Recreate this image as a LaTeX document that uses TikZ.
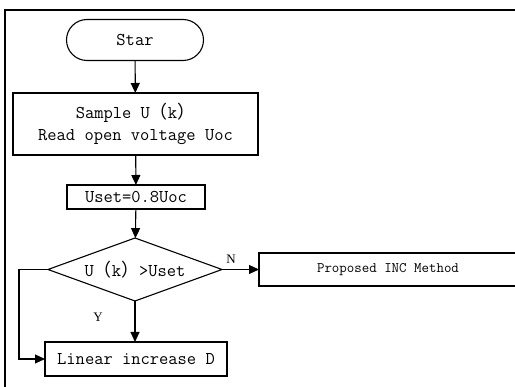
\documentclass[tikz,border=0pt]{standalone}
\usepackage{fontspec}
\setmainfont{Liberation Serif}
\newfontfamily\cjk{Noto Sans CJK SC}
\usetikzlibrary{shapes.geometric,arrows.meta}
\newcommand{\lp}{{\cjk （}}
\newcommand{\rp}{{\cjk ）}}
\begin{document}
\begin{tikzpicture}[x=1pt,y=-1pt,
  every node/.style={inner sep=0pt, outer sep=0pt},
  base/.style={draw=black, line width=1.1pt, font=\ttfamily\fontsize{18}{22}\selectfont, align=center},
  procbox/.style={base, rectangle},
  termbox/.style={base, rectangle, rounded corners=20.5pt},
  decbox/.style={base, diamond, aspect=2.7},
  smallbox/.style={procbox, font=\ttfamily\fontsize{14.5}{16}\selectfont},
  lbl/.style={font=\fontsize{13}{15}\selectfont},
  flow/.style={line width=1.1pt, -{Triangle[length=10pt,width=9pt]}},
  frame/.style={line width=2pt}
]
\useasboundingbox (0,0) rectangle (515,387);
\clip (0,0) rectangle (515,387);
\fill[white] (0,0) rectangle (515,387);
\draw[frame] (5,388) -- (5,10) -- (516,10);

\node[termbox, minimum width=137pt, minimum height=41pt] (star) at (135,40) {Star};
\node[procbox, minimum width=245pt, minimum height=62pt] (sample) at (135.5,124) {Sample U\lp k\rp\\Read open voltage Uoc};
\node[procbox, minimum width=138pt, minimum height=24pt] (uset) at (136,197) {Uset=0.8Uoc};
\node[decbox, minimum width=174pt, minimum height=63pt] (dec) at (135,269.5) {U\lp k\rp{}>Uset};
\node[smallbox, minimum width=258pt, minimum height=33pt] (inc) at (388,269.5) {Proposed INC Method};
\node[procbox, minimum width=182pt, minimum height=34pt] (lin) at (136,359) {Linear increase D};
\coordinate (lt) at (19,269.5);
\coordinate (lb) at (19,359);

\draw[flow] (star) -- (sample);
\draw[flow] (sample) -- (uset);
\draw[flow] (uset) -- (dec);
\draw[flow] (dec.south) -- (dec.south |- lin.north);
\draw[flow] (dec.east) -- (inc.west);
\draw[flow] (dec.west) -- (lt) -- (lb) -- (lin.west);

\node[lbl] (ylab) at (98,317) {Y};
\node[lbl] (nlab) at (231,259) {N};
\end{tikzpicture}
\end{document}
